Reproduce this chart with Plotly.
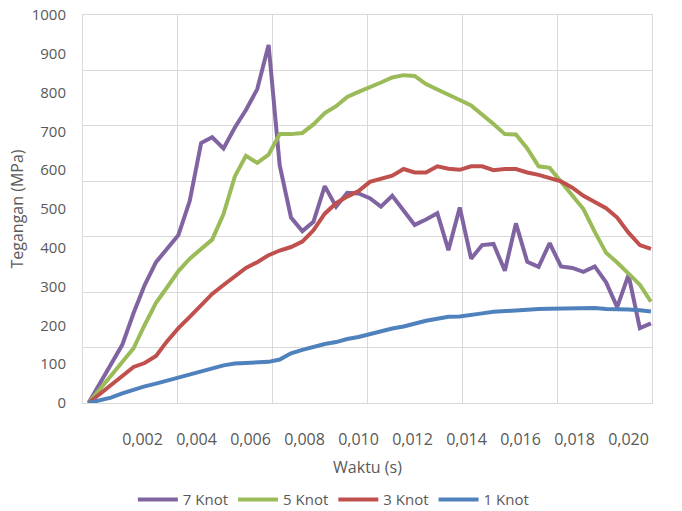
import plotly.graph_objects as go

# Sample times (s)
time_s = [0.0, 0.00042, 0.00083, 0.00125, 0.00167, 0.00208, 0.00250, 0.00292, 0.00333, 0.00375,
          0.00417, 0.00458, 0.00500, 0.00542, 0.00583, 0.00625, 0.00667, 0.00708, 0.00750, 0.00792,
          0.00833, 0.00875, 0.00917, 0.00958, 0.01000, 0.01042, 0.01083, 0.01125, 0.01167, 0.01208,
          0.01250, 0.01292, 0.01333, 0.01375, 0.01417, 0.01458, 0.01500, 0.01542, 0.01583, 0.01625,
          0.01667, 0.01708, 0.01750, 0.01792, 0.01833, 0.01875, 0.01917, 0.01958, 0.02000, 0.02042,
          0.02083]

# Stress (MPa) for each current speed
knot_7 = [0, 52, 100, 150, 232, 304, 363, 397, 433, 521,
          670, 685, 656, 710, 755, 809, 923, 613, 478, 443,
          467, 559, 506, 542, 540, 528, 506, 534, 497, 459,
          473, 489, 394, 504, 372, 407, 410, 341, 463, 364,
          351, 412, 352, 348, 338, 352, 311, 247, 330, 193,
          205]
knot_5 = [0, 35, 70, 106, 141, 201, 258, 299, 340, 372,
          398, 421, 487, 584, 637, 619, 640, 693, 693, 696,
          718, 747, 765, 789, 802, 813, 826, 839, 845, 843,
          822, 808, 796, 781, 767, 744, 719, 693, 692, 656,
          610, 606, 571, 536, 500, 441, 387, 362, 334, 305,
          261]
knot_3 = [0, 23, 46, 70, 93, 103, 121, 160, 193, 222,
          253, 281, 304, 327, 348, 363, 381, 393, 402, 416,
          445, 488, 515, 532, 546, 570, 577, 586, 603, 594,
          594, 610, 604, 601, 610, 610, 600, 603, 603, 594,
          588, 580, 571, 555, 534, 518, 502, 478, 439, 407,
          397]
knot_1 = [0, 6, 14, 25, 35, 43, 50, 58, 66, 74,
          83, 91, 97, 102, 103, 104, 106, 112, 128, 137,
          145, 152, 157, 165, 170, 178, 184, 192, 197, 205,
          212, 217, 222, 223, 228, 231, 235, 237, 240, 240,
          242, 243, 244, 245, 245, 245, 242, 242, 241, 239,
          236]

series_names = ["7 Knot", "5 Knot", "3 Knot", "1 Knot"]
series_values = [knot_7, knot_5, knot_3, knot_1]
series_colors = ["#8064A2", "#9BBB59", "#C0504D", "#4F81BD"]

x_tick_vals = [0.002, 0.004, 0.006, 0.008, 0.010, 0.012, 0.014, 0.016, 0.018, 0.020]
x_tick_text = ["0,002", "0,004", "0,006", "0,008", "0,010", "0,012", "0,014", "0,016", "0,018", "0,020"]
y_tick_vals = [0, 100, 200, 300, 400, 500, 600, 700, 800, 900, 1000]
y_tick_text = [str(v) for v in y_tick_vals]

x_range = [-0.000204, 0.02087]
y_range = [0, 1000]

# Grid divides the plot area into 6 columns and 7 rows
x_grid = [x_range[0] + k * (x_range[1] - x_range[0]) / 6 for k in range(1, 6)]
y_grid = [y_range[0] + k * (y_range[1] - y_range[0]) / 7 for k in range(1, 7)]

grid_color = "#D9D9D9"
text_color = "#595959"
font_family = "Open Sans, DejaVu Sans, sans-serif"

fig = go.Figure()
for name, vals, color in zip(series_names, series_values, series_colors):
    fig.add_trace(go.Scatter(
        x=time_s, y=vals, mode="lines", name=name,
        line=dict(color=color, width=4),
    ))

fig.update_layout(
    width=682, height=511,
    margin=dict(l=83, r=30, t=15, b=108, autoexpand=False),
    paper_bgcolor="white", plot_bgcolor="white",
    font=dict(family=font_family, color=text_color, size=14),
    showlegend=True,
    legend=dict(
        orientation="h", x=0.44, xanchor="center",
        yref="container", y=0.022, yanchor="middle",
        font=dict(size=15, color=text_color), itemwidth=40,
        traceorder="normal",
    ),
    xaxis=dict(
        range=x_range, tickmode="array", tickvals=x_tick_vals, ticktext=x_tick_text,
        showgrid=False, zeroline=False, ticks="", automargin=False,
        showline=True, mirror=True, linecolor=grid_color, linewidth=1,
        ticklabelstandoff=22, tickfont=dict(size=16, color=text_color),
        minor=dict(tickmode="array", tickvals=x_grid, showgrid=True,
                   gridcolor=grid_color, gridwidth=1, ticks=""),
        title=dict(text="Waktu (s)", font=dict(size=16, color=text_color), standoff=12),
    ),
    yaxis=dict(
        range=y_range, tickmode="array", tickvals=y_tick_vals, ticktext=y_tick_text,
        showgrid=False, zeroline=False, ticks="", automargin=False,
        showline=True, mirror=True, linecolor=grid_color, linewidth=1,
        ticklabelstandoff=13, tickfont=dict(size=15, color=text_color),
        minor=dict(tickmode="array", tickvals=y_grid, showgrid=True,
                   gridcolor=grid_color, gridwidth=1, ticks=""),
        title=dict(text="Tegangan (MPa)", font=dict(size=16, color=text_color), standoff=4),
    ),
)

fig.write_html("out.html")
